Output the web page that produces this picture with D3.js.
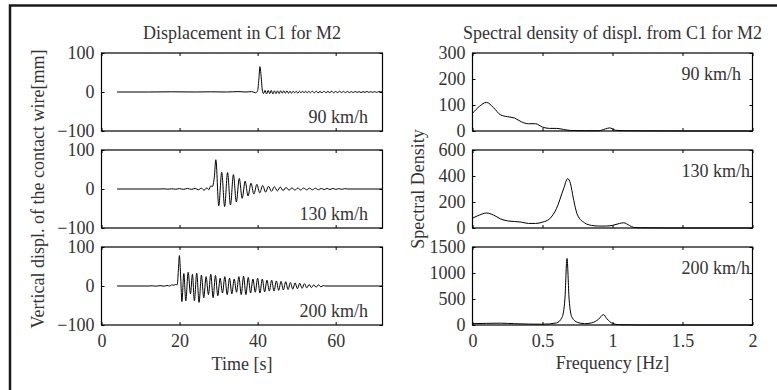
<!DOCTYPE html>
<html>
<head>
<meta charset="utf-8">
<script src="https://cdn.jsdelivr.net/npm/d3@7"></script>
<style>
  body { margin: 0; background: #fff; }
  svg { display: block; font-family: "Liberation Serif", "Times New Roman", serif; }
  .tick text { font-size: 18px; fill: #333; font-family: "Liberation Serif", serif; }
  .tick line { stroke: #000; }
  .lbl { font-size: 18px; fill: #333; }
</style>
</head>
<body>
<div id="chart"></div>
<script>
/* Displacement + spectral density, 3 speeds */

const width = 777, height = 390;

// panel rows (top of each plot box) and box height
const rowTop = [53, 150, 247], boxH = 78;
const leftBox = [101.5, 382.5], rightBox = [472.5, 752.5];

// ---- data ----
const speeds = ["90 km/h", "130 km/h", "200 km/h"];

// time [s], vertical displacement [mm]
const disp90 = [
  [4,0],[12,0],[18,0.5],[24,0],[28,0.5],[32,0],[35,1],[37,0],[38.5,1],[39.5,-2],[40.0,3],[40.3,30],[40.6,65],
  [40.9,40],[41.2,5],[41.5,-4],[41.9,4],[42.3,-5],[42.7,4],[43.1,-4],[43.5,4],[43.9,-5],[44.3,3],[44.7,-4],
  [45.1,3],[45.5,-4],[45.9,3],[46.3,-3],[46.7,3],[47.1,-3],[47.5,3],[47.9,-3],[48.3,2],[48.7,-3],[49.1,2],
  [49.5,-2],[49.9,2],[50.3,-3],[50.7,2],[51.1,-2],[51.5,2],[51.9,-2],[52.3,2],[52.7,-2],[53.1,2],[53.5,-2],
  [54,2],[54.5,-2],[55,2],[55.5,-2],[56,1.5],[56.5,-2],[57,2],[57.5,-2],[58,1.5],[58.5,-1.5],[59,2],[59.5,-2],
  [60,1.5],[60.5,-1.5],[61,2],[61.5,-1.5],[62,1.5],[62.5,-1.5],[63,1.5],[63.5,-1.5],[64,1],[64.5,-1.5],
  [65,1.5],[65.5,-1],[66,1],[66.5,-1.5],[67,1],[67.5,-1],[68,1.5],[68.5,-1],[69,1],[69.5,-1],[70,1],
  [70.5,-1],[71,1],[72,0]
];
const disp130 = [
  [4,0],[15,0],[16,0.5],[17,-0.5],[18,0.5],[19,-0.5],[20,1],[21,-1],[22,1.5],[23,-1],[24,1.5],[24.8,-2],
  [25.6,2],[26.3,-3],[27,3],[27.5,-2],[28,8],[28.4,6],[28.9,30],[29.3,75],[30.05,-43],[30.8,43],[31.55,-45],
  [32.3,42],[33.05,-41],[33.8,37],[34.55,-33],[35.3,27],[36.05,-24],[36.8,20],[37.55,-18],[38.3,15],
  [39.05,-13],[39.8,12],[40.55,-10],[41.3,9],[42.05,-8],[42.8,7],[43.55,-6],[44.3,6],[45.05,-5],[45.8,5],
  [46.55,-4],[47.3,4],[48.05,-3],[48.8,3],[49.55,-3],[50.3,2.5],[51.05,-2.5],[51.8,2.5],[52.55,-2],[53.3,2],
  [54.05,-2],[54.8,2],[55.55,-2],[56.3,1.5],[57.05,-1.5],[57.8,1.5],[58.55,-1.5],[59.3,1.5],[60.05,-1],
  [60.8,1],[61.55,-1],[62.3,1],[63,0],[72,0]
];
const disp200 = [
  [4,0],[12,0],[13,0.5],[14,-0.5],[15,1],[16,-0.5],[16.8,1.5],[17.5,0],[18,3],[18.5,2],[19,4],[19.4,3],
  [19.7,40],[19.95,78],[20.3,20],[20.6,-40],[21.1,32],[21.6,-38],[22.2,35],[22.8,-20],[23.3,30],[23.8,-38],
  [24.4,33],[25.0,-42],[25.6,28],[26.2,-30],[26.8,24],[27.4,-22],[28.0,30],[28.6,-30],[29.2,27],[29.8,-25],
  [30.4,20],[31.0,-18],[31.6,24],[32.2,-22],[32.8,20],[33.4,-20],[34.0,18],[34.6,-16],[35.2,24],[35.8,-22],
  [36.4,25],[37.0,-22],[37.6,22],[38.2,-18],[38.8,18],[39.4,-16],[40.0,20],[40.6,-18],[41.2,18],[41.8,-15],
  [42.4,15],[43.0,-13],[43.6,15],[44.2,-13],[44.8,13],[45.4,-11],[46.0,12],[46.6,-10],[47.2,11],[47.8,-9],
  [48.4,9],[49.0,-8],[49.6,8],[50.2,-7],[50.8,7],[51.4,-6],[52.0,6],[52.6,-5],[53.2,4],[53.8,-4],[54.4,3],
  [55.0,-3],[55.6,3],[56.2,-2],[56.8,1],[57.5,0],[72,0]
];

// frequency [Hz], spectral density
const psd90 = [
  [0,68],[0.05,95],[0.1,110],[0.15,90],[0.2,62],[0.25,55],[0.3,50],[0.35,35],[0.4,28],[0.45,28],[0.5,15],
  [0.55,10],[0.6,10],[0.65,6],[0.7,2],[0.8,1],[0.9,1],[0.95,8],[0.98,12],[1.02,3],[1.1,1],[1.5,0],[2,0]
];
const psd130 = [
  [0,75],[0.05,100],[0.1,115],[0.15,100],[0.2,70],[0.25,55],[0.3,50],[0.35,45],[0.4,35],[0.45,35],[0.5,45],
  [0.55,70],[0.6,150],[0.65,300],[0.68,380],[0.7,340],[0.72,230],[0.75,100],[0.8,40],[0.85,20],[0.9,15],
  [0.95,15],[1.0,20],[1.05,35],[1.08,40],[1.12,20],[1.15,5],[1.2,2],[1.4,0],[2,0]
];
const psd200 = [
  [0,25],[0.2,35],[0.3,25],[0.5,15],[0.6,40],[0.64,150],[0.66,500],[0.675,1280],[0.69,500],[0.71,150],
  [0.75,50],[0.8,25],[0.85,40],[0.9,110],[0.935,200],[0.96,120],[1.0,30],[1.05,5],[1.2,0],[2,0]
];

const dispSeries = [disp90, disp130, disp200];
const psdSeries = [psd90, psd130, psd200];
const psdTicks = [[0,100,200,300], [0,200,400,600], [0,500,1000,1500]];
const dispTicks = [-100, 0, 100];
const timeTicks = [0, 20, 40, 60];
const freqTicks = [0, 0.5, 1, 1.5, 2];

const svg = d3.select("#chart")
  .append("svg")
  .attr("width", width)
  .attr("height", height);

// outer frame (only top and left edges show)
svg.append("path")
  .attr("d", "M10,390V5.5H777")
  .attr("fill", "none")
  .attr("stroke", "#1a1a1a")
  .attr("stroke-width", 2.5);

let x = d3.scaleLinear().domain([0, 72]).range(leftBox);
let f = d3.scaleLinear().domain([0, 2]).range(rightBox);

function panel(xs, xTicks, y, yTicks, data, showX) {
  let top = y.range()[1], bot = y.range()[0];
  let g = svg.append("g");

  g.append("g")
    .attr("transform", `translate(0,${bot})`)
    .call(d3.axisBottom(xs).tickValues(xTicks).tickSize(-3).tickPadding(9)
      .tickFormat(showX ? d3.format("~g") : ""));
  g.append("g")
    .attr("transform", `translate(0,${top})`)
    .call(d3.axisTop(xs).tickValues(xTicks).tickSize(-3).tickFormat(""));
  g.append("g")
    .attr("transform", `translate(${xs.range()[0]},0)`)
    .call(d3.axisLeft(y).tickValues(yTicks).tickSize(-3).tickPadding(7).tickFormat(d3.format("d")));
  g.append("g")
    .attr("transform", `translate(${xs.range()[1]},0)`)
    .call(d3.axisRight(y).tickValues(yTicks).tickSize(-3).tickFormat(""));
  g.selectAll(".domain").remove();

  let line = d3.line()
    .x(d => xs(d[0]))
    .y(d => y(d[1]))
    .curve(d3.curveMonotoneX);

  g.append("path")
    .datum(data)
    .attr("d", line)
    .attr("fill", "none")
    .attr("stroke", "#000")
    .attr("stroke-width", 1);

  g.append("rect")
    .attr("x", xs.range()[0])
    .attr("y", top)
    .attr("width", xs.range()[1] - xs.range()[0])
    .attr("height", bot - top)
    .attr("fill", "none")
    .attr("stroke", "#000")
    .attr("stroke-width", 1.2);
  return g;
}

speeds.forEach((s, i) => {
  let top = rowTop[i], bot = rowTop[i] + boxH;

  let yd = d3.scaleLinear().domain([-100, 100]).range([bot, top]);
  let gl = panel(x, timeTicks, yd, dispTicks, dispSeries[i], i == 2);
  gl.append("text")
    .attr("class", "lbl")
    .attr("text-anchor", "end")
    .attr("x", 368)
    .attr("y", bot - 8)
    .text(s);

  let yp = d3.scaleLinear().domain([0, psdTicks[i][psdTicks[i].length - 1]]).range([bot, top]);
  let gr = panel(f, freqTicks, yp, psdTicks[i], psdSeries[i], i == 2);
  gr.append("text")
    .attr("class", "lbl")
    .attr("text-anchor", "end")
    .attr("x", i == 0 ? 741 : 750)
    .attr("y", top + 27)
    .text(s);
});

// titles
svg.append("text")
  .attr("class", "lbl")
  .attr("text-anchor", "middle")
  .attr("x", (leftBox[0] + leftBox[1]) / 2)
  .attr("y", 39)
  .text("Displacement in C1 for M2");

svg.append("text")
  .attr("class", "lbl")
  .attr("text-anchor", "middle")
  .attr("x", (rightBox[0] + rightBox[1]) / 2)
  .attr("y", 39)
  .text("Spectral density of displ. from C1 for M2");

// axis labels
svg.append("text")
  .attr("class", "lbl")
  .attr("text-anchor", "middle")
  .attr("x", (leftBox[0] + leftBox[1]) / 2)
  .attr("y", 370)
  .text("Time [s]");

svg.append("text")
  .attr("class", "lbl")
  .attr("text-anchor", "middle")
  .attr("x", (rightBox[0] + rightBox[1]) / 2)
  .attr("y", 369)
  .text("Frequency [Hz]");

svg.append("text")
  .attr("class", "lbl")
  .attr("text-anchor", "middle")
  .attr("transform", `translate(44,${rowTop[1] + boxH / 2}) rotate(-90)`)
  .text("Vertical displ. of the contact wire[mm]");

svg.append("text")
  .attr("class", "lbl")
  .attr("text-anchor", "middle")
  .attr("transform", `translate(424,${rowTop[1] + boxH / 2}) rotate(-90)`)
  .text("Spectral Density");
</script>
</body>
</html>
